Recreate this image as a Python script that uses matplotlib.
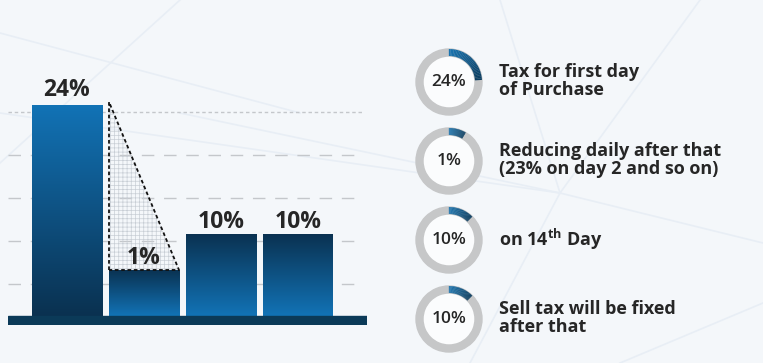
import matplotlib.pyplot as plt
import numpy as np
from matplotlib.patches import Polygon, Wedge, Circle
from matplotlib.colors import LinearSegmentedColormap, to_rgb

plt.rcParams["font.family"] = ["Open Sans", "DejaVu Sans"]
plt.rcParams["mathtext.fontset"] = "custom"
plt.rcParams["mathtext.bf"] = "Open Sans:bold"
plt.rcParams["hatch.linewidth"] = 0.5

# bar chart (heights as drawn, in grid units)
bar_labels = ["24%", "1%", "10%", "10%"]
bar_heights = [4.91, 1.07, 1.91, 1.91]
grid_levels = [0.74, 1.74, 2.74, 3.74, 4.74]

# donut list
ring_labels = ["24%", "1%", "10%", "10%"]
ring_fill = [0.24, 0.085, 0.125, 0.125]
ring_texts = [
    "Tax for first day\nof Purchase",
    "Reducing daily after that\n(23% on day 2 and so on)",
    r"on 14$^{\mathbf{th}}$ Day",
    "Sell tax will be fixed\nafter that",
]

bg = "#f4f7fa"
text_col = "#262626"
bright = "#1273b6"
dark = "#0a3150"

W, H = 763, 363
fig = plt.figure(figsize=(W / 100, H / 100), dpi=100)
fig.patch.set_facecolor(bg)

# faint background network
bgax = fig.add_axes([0, 0, 1, 1])
bgax.set_xlim(0, W)
bgax.set_ylim(0, H)
bgax.axis("off")
net = [((0, 250), (560, 170)), ((560, 170), (763, 120)), ((560, 170), (500, 363)),
       ((560, 170), (470, 0)), ((180, 363), (0, 200)), ((560, 170), (700, 363)),
       ((620, 0), (763, 60)), ((0, 330), (300, 250)), ((180, 250), (560, 170))]
for (a, b) in net:
    bgax.plot([a[0], b[0]], [a[1], b[1]], color="#e8eef5", lw=1.2, zorder=0)

# bar axes: baseline at y=316px, 43px per unit, bars 77px apart
ax = fig.add_axes([8 / W, 38 / H, 359 / W, 265 / H])
ax.set_facecolor("none")
x = np.arange(len(bar_heights))
width = 70 / 77
ax.set_xlim(-59 / 77, 300 / 77)
ax.set_ylim(-9 / 43, 256 / 43)
ax.axis("off")

for g in grid_levels:
    ls = (0, (2.5, 2)) if g == grid_levels[-1] else (0, (9, 7))
    ax.plot([-59 / 77, 295 / 77], [g, g], color="#c4c7cb", lw=1, linestyle=ls, zorder=1)

ax.axhspan(-9 / 43, 0, color="#0b3a58", zorder=5)

bars = ax.bar(x, bar_heights, width=width, color="none", zorder=3)
grad = np.linspace(0, 1, 256).reshape(-1, 1)
blue = LinearSegmentedColormap.from_list("blue", [dark, bright])
for i, b in enumerate(bars):
    x0, y0 = b.get_x(), b.get_y()
    # first bar lightens upward, the rest darken upward
    img = grad if i == 0 else grad[::-1]
    im = ax.imshow(img, extent=[x0, x0 + b.get_width(), y0, y0 + b.get_height()],
                   aspect="auto", cmap=blue, origin="lower", zorder=3)
    im.set_clip_path(b)

# dotted triangle from bar 1 down to bar 2
left = x[1] - width / 2
right = x[1] + width / 2
apex = bar_heights[0] + 0.07
tri = Polygon([(left, apex), (left, bar_heights[1]), (right, bar_heights[1])],
              closed=True, facecolor="none", edgecolor="#c8ced5", hatch="++++",
              lw=0, zorder=2)
ax.add_patch(tri)
ax.plot([left, left, right, left], [bar_heights[1], apex, bar_heights[1], bar_heights[1]],
        color="#111111", lw=1.3, linestyle=(0, (2, 1.5)), zorder=4)

for i, h in enumerate(bar_heights):
    off = 2 if i == 0 else 0
    ax.annotate(bar_labels[i], (x[i], h), xytext=(0, off), textcoords="offset points",
                ha="center", va="bottom", fontsize=16.5, fontweight="bold",
                color=text_col, zorder=6)

# donut list on the right, pixel coordinates
rax = fig.add_axes([0, 0, 1, 1])
rax.set_facecolor("none")
rax.set_xlim(0, W)
rax.set_ylim(0, H)
rax.axis("off")
cx, r_out, ring_w = 449, 33, 7
c0, c1 = np.array(to_rgb("#1a74b0")), np.array(to_rgb("#0b3d60"))
for i, frac in enumerate(ring_fill):
    cy = H - (82 + 79 * i)
    rax.add_patch(Circle((cx, cy), r_out - 1, facecolor="#fbfcfd", edgecolor="none", zorder=1))
    rax.add_patch(Wedge((cx, cy), r_out, 0, 360, width=ring_w, color="#c6c7c8", zorder=2))
    n = 30
    span = frac * 360
    for k in range(n):
        t1 = 90 - span * (k + 1) / n
        t2 = 90 - span * k / n + 0.3
        col = c0 + (c1 - c0) * k / (n - 1)
        rax.add_patch(Wedge((cx, cy), r_out, t1, t2, width=ring_w, color=col, lw=0, zorder=3))
    rax.text(cx, cy, ring_labels[i], ha="center", va="center", fontsize=12.5,
             fontweight="semibold", color=text_col, zorder=4)
    rax.text(499, cy + 1, ring_texts[i], ha="left", va="center", fontsize=13,
             fontweight="bold", color=text_col, linespacing=1.0, zorder=4)

fig.savefig("out.png", dpi=100, facecolor=bg)
